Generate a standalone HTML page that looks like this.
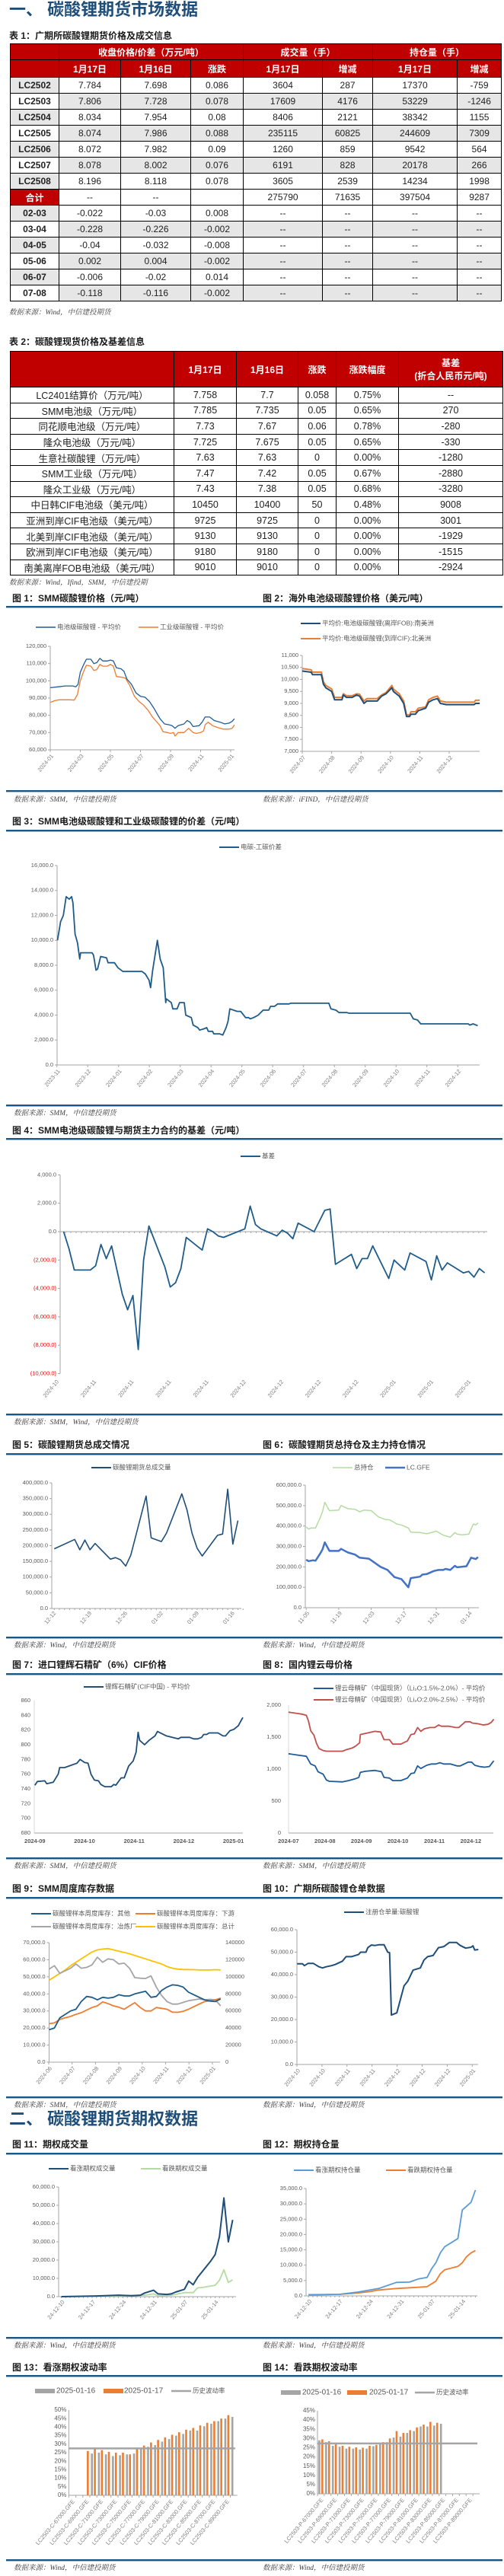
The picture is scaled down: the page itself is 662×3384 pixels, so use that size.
<!DOCTYPE html>
<html><head><meta charset="utf-8">
<style>
body{margin:0;background:#fff;}
#page{position:relative;width:662px;height:3384px;overflow:hidden;font-family:"Liberation Sans","Noto Sans CJK SC",sans-serif;}
table{position:absolute;border-collapse:collapse;font-family:"Liberation Sans Narrow","Liberation Sans","Noto Sans CJK SC",sans-serif;font-size:12px;color:#222;table-layout:fixed;}
td,th{border:1px solid #000;text-align:center;padding:0;white-space:nowrap;overflow:hidden;}
th{background:#c00000;color:#fff;font-weight:bold;font-family:"Liberation Sans","Noto Sans CJK SC",sans-serif;font-size:12px;}
.g{background:#e6e6e6;}
.b{font-weight:bold;}
#t1 td{height:20px;}
#t2 td{height:19.6px;font-size:12.5px;}
#charts{position:absolute;left:0;top:0;}
</style></head>
<body>
<div id="page">
<table id="t1" style="left:13px;top:57px;width:645px;">
<colgroup><col style="width:64px"><col style="width:81px"><col style="width:92px"><col style="width:69px"><col style="width:104px"><col style="width:66px"><col style="width:111px"><col style="width:58px"></colgroup>
<tr style="height:21px"><th></th><th colspan="3">收盘价格/价差（万元/吨）</th><th colspan="2">成交量（手）</th><th colspan="2">持仓量（手）</th></tr>
<tr style="height:23px"><th></th><th>1月17日</th><th>1月16日</th><th>涨跌</th><th>1月17日</th><th>增减</th><th>1月17日</th><th>增减</th></tr>
<tr><td class="g b">LC2502</td><td>7.784</td><td>7.698</td><td>0.086</td><td>3604</td><td>287</td><td>17370</td><td>-759</td></tr>
<tr class="g"><td class="b" style="background:#fff">LC2503</td><td>7.806</td><td>7.728</td><td>0.078</td><td>17609</td><td>4176</td><td>53229</td><td>-1246</td></tr>
<tr><td class="g b">LC2504</td><td>8.034</td><td>7.954</td><td>0.08</td><td>8406</td><td>2121</td><td>38342</td><td>1155</td></tr>
<tr class="g"><td class="b" style="background:#fff">LC2505</td><td>8.074</td><td>7.986</td><td>0.088</td><td>235115</td><td>60825</td><td>244609</td><td>7309</td></tr>
<tr><td class="g b">LC2506</td><td>8.072</td><td>7.982</td><td>0.09</td><td>1260</td><td>859</td><td>9542</td><td>564</td></tr>
<tr class="g"><td class="b" style="background:#fff">LC2507</td><td>8.078</td><td>8.002</td><td>0.076</td><td>6191</td><td>828</td><td>20178</td><td>266</td></tr>
<tr><td class="g b">LC2508</td><td>8.196</td><td>8.118</td><td>0.078</td><td>3605</td><td>2539</td><td>14234</td><td>1998</td></tr>
<tr><th>合计</th><td>--</td><td>--</td><td></td><td>275790</td><td>71635</td><td>397504</td><td>9287</td></tr>
<tr><td class="g b">02-03</td><td>-0.022</td><td>-0.03</td><td>0.008</td><td>--</td><td>--</td><td>--</td><td>--</td></tr>
<tr class="g"><td class="b" style="background:#fff">03-04</td><td>-0.228</td><td>-0.226</td><td>-0.002</td><td>--</td><td>--</td><td>--</td><td>--</td></tr>
<tr><td class="g b">04-05</td><td>-0.04</td><td>-0.032</td><td>-0.008</td><td>--</td><td>--</td><td>--</td><td>--</td></tr>
<tr class="g"><td class="b" style="background:#fff">05-06</td><td>0.002</td><td>0.004</td><td>-0.002</td><td>--</td><td>--</td><td>--</td><td>--</td></tr>
<tr><td class="g b">06-07</td><td>-0.006</td><td>-0.02</td><td>0.014</td><td>--</td><td>--</td><td>--</td><td>--</td></tr>
<tr class="g"><td class="b" style="background:#fff">07-08</td><td>-0.118</td><td>-0.116</td><td>-0.002</td><td>--</td><td>--</td><td>--</td><td>--</td></tr>
</table>
<table id="t2" style="left:13px;top:461px;width:647px;">
<colgroup><col style="width:215px"><col style="width:82px"><col style="width:81px"><col style="width:50px"><col style="width:82px"><col style="width:137px"></colgroup>
<tr style="height:47px"><th></th><th>1月17日</th><th>1月16日</th><th>涨跌</th><th>涨跌幅度</th><th>基差<br>(折合人民币元/吨)</th></tr>
<tr><td>LC2401结算价（万元/吨）</td><td>7.758</td><td>7.7</td><td>0.058</td><td>0.75%</td><td>--</td></tr>
<tr><td>SMM电池级（万元/吨）</td><td>7.785</td><td>7.735</td><td>0.05</td><td>0.65%</td><td>270</td></tr>
<tr><td>同花顺电池级（万元/吨）</td><td>7.73</td><td>7.67</td><td>0.06</td><td>0.78%</td><td>-280</td></tr>
<tr><td>隆众电池级（万元/吨）</td><td>7.725</td><td>7.675</td><td>0.05</td><td>0.65%</td><td>-330</td></tr>
<tr><td>生意社碳酸锂（万元/吨）</td><td>7.63</td><td>7.63</td><td>0</td><td>0.00%</td><td>-1280</td></tr>
<tr><td>SMM工业级（万元/吨）</td><td>7.47</td><td>7.42</td><td>0.05</td><td>0.67%</td><td>-2880</td></tr>
<tr><td>隆众工业级（万元/吨）</td><td>7.43</td><td>7.38</td><td>0.05</td><td>0.68%</td><td>-3280</td></tr>
<tr><td>中日韩CIF电池级（美元/吨）</td><td>10450</td><td>10400</td><td>50</td><td>0.48%</td><td>9008</td></tr>
<tr><td>亚洲到岸CIF电池级（美元/吨）</td><td>9725</td><td>9725</td><td>0</td><td>0.00%</td><td>3001</td></tr>
<tr><td>北美到岸CIF电池级（美元/吨）</td><td>9130</td><td>9130</td><td>0</td><td>0.00%</td><td>-1929</td></tr>
<tr><td>欧洲到岸CIF电池级（美元/吨）</td><td>9180</td><td>9180</td><td>0</td><td>0.00%</td><td>-1515</td></tr>
<tr><td>南美离岸FOB电池级（美元/吨）</td><td>9010</td><td>9010</td><td>0</td><td>0.00%</td><td>-2924</td></tr>
</table>
<svg id="charts" width="662" height="3384" xmlns="http://www.w3.org/2000/svg"></svg>
</div>
<script>
// ---------- data ----------
const f1Months=[0,0.5,1,1.5,1.7,1.85,2,2.2,2.4,2.7,2.9,3.1,3.3,3.5,3.8,4,4.2,4.4,4.7,4.9,5.1,5.4,5.7,6,6.3,6.6,6.9,7.1,7.3,7.6,7.9,8.1,8.3,8.5,8.9,9.1,9.3,9.5,9.9,10.1,10.3,10.6,10.9,11.3,11.6,11.9,12.1,12.25];
const f1Battery=[96000,96500,97000,97000,96500,98000,105000,109000,112500,112500,110000,110500,113000,111500,111500,112000,111500,107500,107000,105500,101000,98000,93000,91000,90500,88000,84000,81000,78000,75000,74500,74000,72500,74000,75000,77000,76000,73500,74000,76000,79000,79000,77000,76000,75000,75500,76500,78000];
const f1Months2=[0,0.3,0.6,1.3,1.6,1.8,2,2.2,2.4,2.7,2.9,3.1,3.3,3.5,3.8,4,4.2,4.4,4.8,5,5.3,5.6,5.9,6.2,6.5,6.8,7,7.3,7.5,7.8,8,8.2,8.3,8.5,8.9,9.2,9.5,9.7,10,10.2,10.3,10.5,10.8,11.1,11.5,11.9,12.1,12.25];
const f1Industrial=[87500,88500,89000,89000,88800,92000,100000,105000,109000,108500,106000,106500,109500,108500,108500,109500,108500,102500,102000,101500,97000,91000,88000,86000,83000,79000,77000,74000,70500,70000,69500,70000,68000,70000,70000,72500,70000,69500,70000,71000,74500,76000,74000,73000,72000,72000,72500,74500];
const f1Ticks=[60000,70000,80000,90000,100000,110000,120000];
const f1TickLabels=["60,000","70,000","80,000","90,000","100,000","110,000","120,000"];
const f1XLabels=["2024-01","2024-03","2024-05","2024-07","2024-09","2024-11","2025-01"];

const f2Months=[0,0.3,0.35,0.65,0.72,0.8,1,1.1,1.35,1.4,1.5,1.7,1.85,1.95,2.1,2.2,2.55,2.7,2.85,3.05,3.1,3.3,3.45,3.55,3.65,3.7,3.85,3.95,4.2,4.3,4.45,4.6,4.7,4.9,5.85,5.9,6.04];
const f2SouthAm=[10350,10300,10200,10200,9800,9650,9500,9150,9150,9350,9250,9250,9350,9300,9000,9100,9100,9300,9400,9650,9500,9300,9000,8450,8450,8550,8550,8700,8800,9050,9150,9200,9000,8950,8950,9000,9000];
const f2NorthAm=[10450,10400,10300,10300,9900,9750,9600,9250,9250,9400,9320,9320,9400,9380,9100,9200,9200,9350,9450,9750,9600,9400,9100,8520,8520,8650,8650,8800,8850,9150,9250,9300,9100,9050,9050,9130,9130];
const f2Ticks=[7000,7500,8000,8500,9000,9500,10000,10500,11000];
const f2TickLabels=["7,000","7,500","8,000","8,500","9,000","9,500","10,000","10,500","11,000"];
const f2XLabels=["2024-07","2024-08","2024-09","2024-10","2024-11","2024-12"];

const f3Months=[0.02,0.12,0.21,0.3,0.4,0.48,0.52,0.59,0.67,0.74,0.77,1.14,1.19,1.27,1.32,1.42,1.61,1.66,1.87,1.98,2.14,2.76,2.87,2.99,3.04,3.1,3.26,3.35,3.45,3.53,3.55,3.71,3.76,3.9,3.98,4.13,4.18,4.36,4.42,4.57,4.63,4.77,4.86,4.91,5.05,5.09,5.28,5.38,5.49,5.55,5.61,5.85,5.96,6.12,6.22,6.27,6.38,6.53,6.69,6.87,6.93,7.06,7.16,7.53,7.58,8.82,8.89,9.05,9.15,9.41,9.47,11.46,11.56,11.7,11.8,13.34,13.39,13.5,13.65];
const f3Spread=[10000,11500,12000,13500,13300,13500,13000,10500,9800,8500,9000,9000,8800,7600,7700,8700,8600,8200,8200,7800,7500,7500,7300,6800,6200,7500,10000,8500,7800,5000,5300,5000,4500,4500,5000,5000,4000,3800,3200,3000,2800,2900,3000,2700,2700,2500,2500,2400,3000,3500,4500,4300,4300,3800,3800,3700,3800,4000,4400,4400,4700,4700,4900,4900,4950,4950,4500,4400,4200,4200,4150,4150,3700,3600,3300,3300,3200,3300,3150];
const f3Ticks=[0,2000,4000,6000,8000,10000,12000,14000,16000];
const f3TickLabels=["0.0","2,000.0","4,000.0","6,000.0","8,000.0","10,000.0","12,000.0","14,000.0","16,000.0"];
const f3XLabels=["2023-11","2023-12","2024-01","2024-02","2024-03","2024-04","2024-05","2024-06","2024-07","2024-08","2024-09","2024-10","2024-11","2024-12"];

const f4Index=[0,1,2,5,6,7,8,9,11,12,13,14,15,16,19,20,21,22,23,26,27,28,29,30,34,35,36,37,40,41,42,43,44,47,49,50,51,54,55,56,57,58,61,62,64,65,68,69,70,71,72,75,76,77,78,79];
const f4Basis=[0,-1200,-2700,-2700,-2400,-900,-1900,-1000,-4400,-5500,-4500,-8300,-2000,400,-2500,-3900,-3600,-2600,-400,-1300,200,0,-300,-400,200,1800,500,200,-300,100,-100,-500,600,0,1500,1600,-2300,-1600,-2600,-1900,-1900,-1000,-3300,-2000,-2700,-1500,-2100,-3400,-1700,-2700,-2200,-2900,-2800,-3200,-2600,-2900];
const f4Ticks=[-10000,-8000,-6000,-4000,-2000,0,2000,4000];
const f4TickLabels=["(10,000.0)","(8,000.0)","(6,000.0)","(4,000.0)","(2,000.0)","0.0","2,000.0","4,000.0"];
const f4XLabels=["2024-10","2024-11","2024-11","2024-11","2024-11","2024-12","2024-12","2024-12","2024-12","2025-01","2025-01","2025-01"];

const f5Days=[0,4,5,6,7,8,11,12,13,14,15,18,19,21,22,25,26,27,28,29,32,33,34,35,36];
const f5Volume=[190000,220000,187000,218000,187000,207000,157000,162000,155000,135000,170000,358000,225000,213000,240000,365000,315000,240000,192000,167000,233000,237000,380000,205000,280000];
const f5Ticks=[0,50000,100000,150000,200000,250000,300000,350000,400000];
const f5TickLabels=["0.0","50,000.0","100,000.0","150,000.0","200,000.0","250,000.0","300,000.0","350,000.0","400,000.0"];
const f5XLabels=["12-12","12-19","12-26","01-02","01-09","01-16"];

const f6DaysTotal=[0,1,2,4,6,7,8,10,14,15,16,18,21,23,25,28,31,34,36,39,41,44,45,49,52,56,59,62,64,65,67,70,72,73,74];
const f6Total=[395000,385000,390000,390000,440000,470000,516000,475000,478000,500000,495000,485000,482000,470000,478000,475000,445000,432000,430000,410000,405000,390000,370000,368000,362000,375000,355000,345000,368000,360000,357000,360000,410000,405000,415000];
const f6DaysMain=[0,1,3,4,6,7,8,10,14,15,16,18,21,23,27,32,35,38,41,44,45,49,50,52,55,57,59,60,62,64,65,69,71,73,74];
const f6Main=[235000,228000,232000,230000,265000,285000,320000,278000,278000,288000,282000,270000,260000,245000,240000,200000,185000,150000,140000,100000,145000,152000,162000,165000,180000,185000,185000,190000,185000,205000,198000,203000,245000,238000,248000];
const f6Ticks=[0,100000,200000,300000,400000,500000,600000];
const f6TickLabels=["0.0","100,000.0","200,000.0","300,000.0","400,000.0","500,000.0","600,000.0"];
const f6XLabels=["11-05","11-19","12-03","12-17","12-31","01-14"];

const f7Months=[0,0.05,0.2,0.24,0.37,0.47,0.5,0.6,0.85,0.91,1,1.07,1.13,1.2,1.28,1.33,1.41,1.54,1.59,1.63,1.74,1.8,1.89,1.98,2.04,2.08,2.11,2.21,2.3,2.42,2.47,2.65,2.89,2.94,3.12,3.2,3.28,3.36,3.4,3.46,3.51,3.69,3.79,3.84,3.93,4.01,4.1,4.14,4.19];
const f7Price=[745,750,751,747,749,760,769,769,775,780,776,775,760,752,751,746,743,743,746,745,755,755,771,778,790,817,806,800,806,812,818,812,808,810,810,808,808,810,814,814,816,816,812,812,819,821,826,831,837];
const f7Ticks=[680,700,720,740,760,780,800,820,840,860];
const f7XLabels=["2024-09","2024-10","2024-11","2024-12","2025-01"];

const f8MonthsHigh=[0,0.24,0.37,0.49,0.55,0.61,0.7,0.77,0.84,0.95,1.04,1.48,1.57,1.75,1.84,1.95,1.97,2.37,2.53,2.62,2.77,2.86,3.08,3.26,3.36,3.45,3.54,3.63,3.72,3.88,4.01,4.12,4.19,4.41,4.58,4.67,4.85,4.98,5.04,5.19,5.34,5.47,5.56,5.63];
const f8High=[1890,1870,1860,1840,1750,1600,1530,1400,1320,1290,1280,1280,1300,1330,1360,1410,1540,1590,1580,1460,1460,1390,1390,1440,1540,1550,1650,1590,1630,1650,1650,1690,1670,1670,1650,1650,1740,1740,1720,1710,1690,1700,1730,1780];
const f8MonthsLow=[0,0.24,0.49,0.61,0.73,0.81,0.95,1.04,1.12,1.48,1.65,1.84,1.93,1.97,2.11,2.37,2.55,2.62,2.77,2.86,3.08,3.26,3.36,3.45,3.54,3.63,3.79,3.92,4.04,4.15,4.26,4.44,4.62,4.71,4.93,5.02,5.11,5.24,5.38,5.51,5.63];
const f8Low=[1240,1220,1200,1080,1050,960,920,830,810,800,820,850,870,950,965,980,960,870,860,820,820,860,930,940,1050,1010,1060,1080,1080,1100,1080,1080,1050,1050,1110,1110,1060,1040,1030,1040,1130];
const f8Ticks=[0,500,1000,1500,2000];
const f8TickLabels=["0","500","1,000","1,500","2,000"];
const f8XLabels=["2024-07","2024-08","2024-09","2024-10","2024-11","2024-12"];

const f9Other=[19000,20000,26000,28000,30000,31000,35500,38500,38000,36500,38000,37500,38000,39500,38800,38800,40000,40800,41500,38000,38500,42000,44000,45300,45000,44000,41000,39500,38000,36500,35800,35500,37000];
const f9Down=[22500,23000,25000,26000,26800,28000,29000,30500,32000,33000,35300,34300,33000,32200,31000,33000,34800,32000,30000,30000,32000,31500,31000,29300,29200,29800,31000,32500,34000,35500,36000,36500,37500];
const f9Smelter=[54500,56500,52000,53500,55000,57500,55000,55500,57000,61500,58500,60500,60000,57500,58000,55000,49500,49200,49000,50500,44000,39000,35500,34000,34000,35000,36000,36500,37000,36500,36800,36500,33000];
const f9Total=[96000,100000,104000,108000,113000,117000,121000,125000,129000,131500,132500,133000,131500,130000,128500,127000,125000,123000,121000,119000,117000,115000,112000,110000,109000,108500,108500,108300,108000,108000,108000,108300,108000];
const f9Ticks=[0,10000,20000,30000,40000,50000,60000,70000];
const f9TickLabels=["0.0","10,000.0","20,000.0","30,000.0","40,000.0","50,000.0","60,000.0","70,000.0"];
const f9RightLabels=["0","20000","40000","60000","80000","100000","120000","140000"];
const f9XLabels=["2024-06","2024-07","2024-08","2024-09","2024-10","2024-11","2024-12","2025-01"];

const f10Days=[0,3,4,6,9,12,14,16,19,21,25,27,30,34,35,38,39,41,43,45,48,50,51,52,55,57,59,61,64,68,70,72,75,78,81,84,88,90,93,96,97,98,100];
const f10Receipts=[44800,44800,44000,45000,45000,43500,43000,43500,44000,44500,46000,48000,48000,49000,50000,50000,52000,53200,53000,53300,53300,50000,49800,22000,23000,29000,35000,37000,42000,43000,46500,48000,48500,52000,52500,54300,54300,53000,51800,52200,52800,51000,51200];
const f10Ticks=[0,10000,20000,30000,40000,50000,60000];
const f10TickLabels=["0.0","10,000.0","20,000.0","30,000.0","40,000.0","50,000.0","60,000.0"];
const f10XLabels=["2024-10","2024-10","2024-11","2024-11","2024-12","2024-12","2024-12","2025-01"];

const f11DaysCall=[0,7,10,13,16,18,19,21,22,24,25,26,28,29,30,31,34,35,36,37,38,39];
const f11Call=[0,300,500,800,500,800,2000,3500,1500,1200,1500,2500,4000,8500,6500,10500,19500,23000,33000,54000,30000,42000];
const f11DaysPut=[0,10,19,21,22,25,28,30,31,32,35,36,37,38,39];
const f11Put=[0,200,800,1500,500,800,2200,2200,4800,5000,6200,9000,14700,7800,9200];
const f11Ticks=[0,10000,20000,30000,40000,50000,60000];
const f11TickLabels=["0.0","10,000.0","20,000.0","30,000.0","40,000.0","50,000.0","60,000.0"];
const f11XLabels=["24-12-10","24-12-17","24-12-24","24-12-31","25-01-07","25-01-14"];

const f12DaysCall=[0,7,11,16,20,23,25,27,28,29,30,31,34,35,37,38];
const f12Call=[300,500,1200,2400,4400,4500,5500,6000,8800,10800,14000,16000,18700,28000,30500,34500];
const f12DaysPut=[0,7,11,14,16,20,25,27,29,30,31,34,35,36,37,38];
const f12Put=[400,500,900,1400,1900,2400,2800,3000,4800,7200,8500,9600,10800,12800,14000,14800];
const f12Ticks=[0,5000,10000,15000,20000,25000,30000,35000];
const f12TickLabels=["0.0","5,000.0","10,000.0","15,000.0","20,000.0","25,000.0","30,000.0","35,000.0"];

const f13Strikes=["67000","68000","69000","70000","71000","72000","73000","74000","75000","76000","77000","78000","79000","80000","81000","82000","83000","84000","85000","86000","87000","88000","89000","90000"];
const f13Prev=[null,null,null,24.5,25,24,23,23.5,24,24.5,27.5,28.5,29.5,31.5,33,35,36,38,38,40.5,42,43.5,45,46];
const f13Curr=[null,null,26,28,26.5,25.5,25,25,24,27,29.2,31,32.5,34,35.5,37,38.5,39.5,41,42.5,43.5,45,47,null];
const f13Hist=27.5;
const f13Ticks=[0,5,10,15,20,25,30,35,40,45,50];
const f14Prev=[29,28,26,25.5,24.5,24.5,24,24.5,25.8,27,28,30.5,31,33,34,36.5,36.5,37,38,null,null,null,null,null];
const f14Curr=[29.5,28.5,27,26,25.5,25.2,25,26,26.5,28,30,34,33,34.5,36,37.5,39,38.5,null,null,null,null,null,null];
const f14Hist=27.3;
const f14Ticks=[0,5,10,15,20,25,30,35,40,45];

// ---------- helpers ----------
const NS="http://www.w3.org/2000/svg";
const svg=document.getElementById('charts');
const CJK='"Liberation Sans","Noto Sans CJK SC",sans-serif';
function mk(tag,attrs,name){
  const e=document.createElementNS(NS,tag);
  for(const k in attrs) e.setAttribute(k,attrs[k]);
  
  
  svg.appendChild(e);return e;
}
function txt(x,y,s,size,color,name,anchor,extra){
  const a={x:x,y:y,'font-size':size,fill:color,'font-family':CJK,'text-anchor':anchor||'start','dominant-baseline':'middle'};
  if(extra) for(const k in extra) a[k]=extra[k];
  const t=mk('text',a,name);t.textContent=s;return t;
}
function lin(d0,d1,r0,r1){return v=>r0+(v-d0)*(r1-r0)/(d1-d0);}
function poly(xs,ys,sx,sy,color,w,name){
  let d='';for(let i=0;i<xs.length;i++){d+=(i?'L':'M')+sx(xs[i]).toFixed(1)+' '+sy(ys[i]).toFixed(1);}
  return mk('path',{d:d,fill:'none',stroke:color,'stroke-width':w,'stroke-linejoin':'round'},name);
}
function yAxis(x,sy,ticks,labels,name,color){
  mk('line',{x1:x,x2:x,y1:sy(ticks[0]),y2:sy(ticks[ticks.length-1]),stroke:'#a6a6a6','stroke-width':1},name+'-line');
  ticks.forEach((t,i)=>{
    mk('line',{x1:x-3,x2:x,y1:sy(t),y2:sy(t),stroke:'#a6a6a6','stroke-width':1},name+'-tick');
    txt(x-5,sy(t),labels[i],7.5,(color&&t<0)?'#ff0000':'#595959',name+'-label','end');
  });
}
function xAxisLine(x1,x2,y,name){mk('line',{x1:x1,x2:x2,y1:y,y2:y,stroke:'#a6a6a6','stroke-width':1},name);}
function rotLabel(x,y,s,name){txt(x,y,s,7.5,'#7f7f7f',name,'end',{transform:'rotate(-50 '+x+' '+y+')'});}
function legLine(x,y,color,w,label,name){
  mk('line',{x1:x,x2:x+26,y1:y,y2:y,stroke:color,'stroke-width':w},name+'-swatch');
  txt(x+28,y,label,8.5,'#595959',name);
}
function rule(y){mk('rect',{x:8,y:y-1,width:652,height:2.4,fill:'#1a5785'},'blue-rule');}
function cap(x,y,s,name){txt(x,y,s,12,'#1a1a1a',name,'start',{'font-weight':'bold'});}
function src(x,y,s,name){txt(x,y,s,9.5,'#404040',name,'start',{'font-style':'italic','font-family':'"Liberation Serif","Noto Serif CJK SC",serif'});}

// ---------- headings ----------
txt(12,14,'一、 碳酸锂期货市场数据',22,'#1f4e79','section-1-title','start',{'font-weight':'bold'});
cap(12,48,'表 1：广期所碳酸锂期货价格及成交信息','table-1-caption');
src(12,411,'数据来源：Wind，中信建投期货','table-1-source');
cap(12,450,'表 2：碳酸锂现货价格及基差信息','table-2-caption');
src(12,766,'数据来源：Wind，Ifind，SMM，中信建投期','table-2-source');

// ---------- fig1 ----------
cap(16,787,'图 1：SMM碳酸锂价格（元/吨）','fig1-caption');
cap(345,787,'图 2：海外电池级碳酸锂价格（美元/吨）','fig2-caption');
rule(797);
legLine(47,824,'#1f5c99',1.5,'电池级碳酸锂 - 平均价','fig1-legend-battery');
legLine(182,824,'#ed7d31',1.5,'工业级碳酸锂 - 平均价','fig1-legend-industrial');
{const sx=lin(0,12,66,303),sy=lin(60000,120000,985,849);
 yAxis(66,sy,f1Ticks,f1TickLabels,'fig1-y-axis');xAxisLine(66,308,985,'fig1-x-axis');
 f1XLabels.forEach((l,i)=>{mk('line',{x1:sx(i*2),x2:sx(i*2),y1:985,y2:988,stroke:'#a6a6a6'},'fig1-x-tick');rotLabel(sx(i*2)+3,992,l,'fig1-x-label');});
 poly(f1Months,f1Battery,sx,sy,'#1f5c99',1.3,'fig1-battery-line');
 poly(f1Months2,f1Industrial,sx,sy,'#ed7d31',1.3,'fig1-industrial-line');}
legLine(395,819,'#1f4e79',2,'平均价:电池级碳酸锂(离岸FOB):南美洲','fig2-legend-south-america');
legLine(395,839,'#ed7d31',2,'平均价:电池级碳酸锂(到岸CIF):北美洲','fig2-legend-north-america');
{const sx=lin(0,5,397,590),sy=lin(7000,11000,987,861);
 yAxis(397,sy,f2Ticks,f2TickLabels,'fig2-y-axis');xAxisLine(397,630,987,'fig2-x-axis');
 f2XLabels.forEach((l,i)=>{mk('line',{x1:sx(i),x2:sx(i),y1:987,y2:990,stroke:'#a6a6a6'},'fig2-x-tick');rotLabel(sx(i)+3,994,l,'fig2-x-label');});
 poly(f2Months,f2NorthAm,sx,sy,'#ed7d31',2,'fig2-north-america-line');
 poly(f2Months,f2SouthAm,sx,sy,'#1f4e79',2,'fig2-south-america-line');}
rule(1039);
src(18,1051,'数据来源：SMM，中信建投期货','fig1-source');
src(345,1051,'数据来源：iFIND，中信建投期货','fig2-source');

// ---------- fig3 ----------
cap(16,1080,'图 3：SMM电池级碳酸锂和工业级碳酸锂的价差（元/吨）','fig3-caption');
rule(1091);
legLine(288,1113,'#1f5c8a',2,'电碳-工碳价差','fig3-legend');
{const sx=lin(0,1,74.7,115.2),sy=lin(0,16000,1399,1137);
 yAxis(75,sy,f3Ticks,f3TickLabels,'fig3-y-axis');xAxisLine(75,630,1399,'fig3-x-axis');
 f3XLabels.forEach((l,i)=>{mk('line',{x1:sx(i),x2:sx(i),y1:1399,y2:1402,stroke:'#a6a6a6'},'fig3-x-tick');rotLabel(sx(i)+3,1406,l,'fig3-x-label');});
 poly(f3Months,f3Spread,sx,sy,'#1f5c8a',1.8,'fig3-spread-line');}
rule(1452);
src(18,1463,'数据来源：SMM，中信建投期货','fig3-source');

// ---------- fig4 ----------
cap(16,1486,'图 4：SMM电池级碳酸锂与期货主力合约的基差（元/吨）','fig4-caption');
rule(1496);
legLine(316,1519,'#1f5c8a',2,'基差','fig4-legend');
{const sx=lin(0,1,83.6,90.6),sy=lin(0,2000,1618,1580.7);
 yAxis(79,sy,f4Ticks,f4TickLabels,'fig4-y-axis',true);xAxisLine(79,640,1618,'fig4-x-axis');
 for(let i=0;i<81;i++){mk('line',{x1:79+i*6.96,x2:79+i*6.96,y1:1618,y2:1620,stroke:'#a6a6a6'},'fig4-x-tick');}
 f4XLabels.forEach((l,i)=>{rotLabel(76+i*49.2,1814,l,'fig4-x-label');});
 poly(f4Index,f4Basis,sx,sy,'#1f5c8a',1.8,'fig4-basis-line');}
rule(1858);
src(18,1869,'数据来源：SMM，Wind，中信建投期货','fig4-source');

// ---------- fig5/6 ----------
cap(16,1899,'图 5：碳酸锂期货总成交情况','fig5-caption');
cap(345,1899,'图 6：碳酸锂期货总持仓及主力持仓情况','fig6-caption');
rule(1910);
legLine(120,1928,'#1f4e79',2,'碳酸锂期货总成交量','fig5-legend');
{const sx=lin(0,1,71.3,78),sy=lin(0,400000,2113,1948);
 yAxis(68,sy,f5Ticks,f5TickLabels,'fig5-y-axis');xAxisLine(68,317,2113,'fig5-x-axis');
 for(let d=0;d<38;d++){mk('line',{x1:sx(d),x2:sx(d),y1:2113,y2:2115,stroke:'#a6a6a6'},'fig5-x-tick');}
 f5XLabels.forEach((l,i)=>{rotLabel(sx(i*7)+1,2118,l,'fig5-x-label');});
 poly(f5Days,f5Volume,sx,sy,'#1f4e79',1.6,'fig5-volume-line');}
legLine(437,1928,'#b4dca0',1.5,'总持仓','fig6-legend-total');
legLine(506,1928,'#4472c4',2.5,'LC.GFE','fig6-legend-main');
{const sx=lin(0,1,402.2,405.25),sy=lin(0,600000,2112,1951);
 yAxis(401,sy,f6Ticks,f6TickLabels,'fig6-y-axis');xAxisLine(401,629,2112,'fig6-x-axis');
 f6XLabels.forEach((l,i)=>{mk('line',{x1:sx(i*14),x2:sx(i*14),y1:2112,y2:2115,stroke:'#a6a6a6'},'fig6-x-tick');rotLabel(sx(i*14)+3,2118,l,'fig6-x-label');});
 poly(f6DaysTotal,f6Total,sx,sy,'#b4dca0',1.5,'fig6-total-line');
 poly(f6DaysMain,f6Main,sx,sy,'#4472c4',2.5,'fig6-main-line');}
rule(2151);
src(18,2162,'数据来源：Wind，中信建投期货','fig5-source');
src(345,2162,'数据来源：Wind，中信建投期货','fig6-source');

// ---------- fig7/8 ----------
cap(16,2188,'图 7：进口锂辉石精矿（6%）CIF价格','fig7-caption');
cap(345,2188,'图 8：国内锂云母价格','fig8-caption');
rule(2199);
legLine(110,2216,'#1f4e79',2,'锂辉石精矿(CIF中国) - 平均价','fig7-legend');
{const sx=lin(0,1,45.8,111),sy=lin(680,860,2408,2234);
 f7Ticks.forEach(t=>txt(40,sy(t),String(t),7.5,'#595959','fig7-y-label','end'));
 mk('line',{x1:45,x2:45,y1:2234,y2:2408,stroke:'#d9d9d9'},'fig7-y-axis');xAxisLine(45,319,2408,'fig7-x-axis');
 f7XLabels.forEach((l,i)=>{txt(sx(i),2419,l,7.5,'#595959','fig7-x-label','middle',{'font-weight':'bold'});});
 poly(f7Months,f7Price,sx,sy,'#1f4e79',1.8,'fig7-price-line');}
legLine(412,2218,'#1f5c99',2,'锂云母精矿（中国现货）（Li₂O:1.5%-2.0%）- 平均价','fig8-legend-low');
legLine(412,2233,'#c0504d',2,'锂云母精矿（中国现货）（Li₂O:2.0%-2.5%）- 平均价','fig8-legend-high');
{const sx=lin(0,1,378.9,426.8),sy=lin(0,2000,2408,2240);
 f8Ticks.forEach((t,i)=>txt(369,sy(t),f8TickLabels[i],7.5,'#595959','fig8-y-label','end'));
 mk('line',{x1:379,x2:379,y1:2240,y2:2408,stroke:'#d9d9d9'},'fig8-y-axis');xAxisLine(379,648,2408,'fig8-x-axis');
 f8XLabels.forEach((l,i)=>{txt(sx(i),2419,l,7.5,'#595959','fig8-x-label','middle',{'font-weight':'bold'});});
 poly(f8MonthsHigh,f8High,sx,sy,'#c0504d',1.8,'fig8-high-grade-line');
 poly(f8MonthsLow,f8Low,sx,sy,'#1f5c99',1.8,'fig8-low-grade-line');}
rule(2441);
src(18,2452,'数据来源：SMM，中信建投期货','fig7-source');
src(345,2452,'数据来源：SMM，中信建投期货','fig8-source');

// ---------- fig9/10 ----------
cap(16,2482,'图 9：SMM周度库存数据','fig9-caption');
cap(345,2482,'图 10：广期所碳酸锂仓单数据','fig10-caption');
rule(2493);
legLine(41,2514,'#1f5c8a',2,'碳酸锂样本周度库存：其他','fig9-legend-other');
legLine(178,2514,'#ed7d31',2,'碳酸锂样本周度库存：下游','fig9-legend-downstream');
legLine(41,2531,'#a5a5a5',2,'碳酸锂样本周度库存：冶炼厂','fig9-legend-smelter');
legLine(178,2531,'#ffc000',2,'碳酸锂样本周度库存：总计','fig9-legend-total');
{const sx=lin(0,1,64.5,71.54),sy=lin(0,70000,2709,2552),sy2=lin(0,140000,2709,2552);
 yAxis(64.5,sy,f9Ticks,f9TickLabels,'fig9-y-axis');xAxisLine(64.5,289,2709,'fig9-x-axis');
 f9Ticks.forEach((t,i)=>txt(296,sy(t),f9RightLabels[i],7.5,'#595959','fig9-right-label','start'));
 f9XLabels.forEach((l,i)=>{const x=64+i*30.7;mk('line',{x1:x,x2:x,y1:2709,y2:2712,stroke:'#a6a6a6'},'fig9-x-tick');rotLabel(x+3,2716,l,'fig9-x-label');});
 const w=f9Other.map((v,i)=>i);
 poly(w,f9Total,sx,sy2,'#ffc000',1.8,'fig9-total-line');
 poly(w,f9Smelter,sx,sy,'#a5a5a5',1.8,'fig9-smelter-line');
 poly(w,f9Down,sx,sy,'#ed7d31',1.8,'fig9-downstream-line');
 poly(w,f9Other,sx,sy,'#1f5c8a',1.8,'fig9-other-line');}
legLine(452,2512,'#1f4e79',2,'注册仓单量:碳酸锂','fig10-legend');
{const sx=lin(0,1,390.3,392.68),sy=lin(0,60000,2712,2535);
 yAxis(390,sy,f10Ticks,f10TickLabels,'fig10-y-axis');xAxisLine(390,628,2712,'fig10-x-axis');
 f10XLabels.forEach((l,i)=>{const x=390+i*32.9;mk('line',{x1:x,x2:x,y1:2712,y2:2715,stroke:'#a6a6a6'},'fig10-x-tick');rotLabel(x+3,2719,l,'fig10-x-label');});
 poly(f10Days,f10Receipts,sx,sy,'#1f4e79',2,'fig10-receipts-line');}
rule(2755);
src(18,2766,'数据来源：SMM，中信建投期货','fig9-source');
src(345,2766,'数据来源：Wind，中信建投期货','fig10-source');

// ---------- section 2 ----------
txt(12,2785,'二、 碳酸锂期货期权数据',22,'#1f4e79','section-2-title','start',{'font-weight':'bold'});
cap(16,2818,'图 11：期权成交量','fig11-caption');
cap(345,2818,'图 12：期权持仓量','fig12-caption');
rule(2829);
legLine(64,2849,'#1f4e79',2,'看涨期权成交量','fig11-legend-call');
legLine(185,2849,'#b4dca0',2,'看跌期权成交量','fig11-legend-put');
{const sx=lin(0,1,80.6,86.37),sy=lin(0,60000,3017,2873);
 yAxis(77,sy,f11Ticks,f11TickLabels,'fig11-y-axis');xAxisLine(77,310,3017,'fig11-x-axis');
 for(let d=0;d<40;d++){mk('line',{x1:sx(d),x2:sx(d),y1:3017,y2:3019,stroke:'#a6a6a6'},'fig11-x-tick');}
 f11XLabels.forEach((l,i)=>{rotLabel(sx(i*7)+3,3023,l,'fig11-x-label');});
 poly(f11DaysPut,f11Put,sx,sy,'#b4dca0',1.8,'fig11-put-line');
 poly(f11DaysCall,f11Call,sx,sy,'#1f4e79',2,'fig11-call-line');}
legLine(386,2851,'#5b9bd5',2,'看涨期权持仓量','fig12-legend-call');
legLine(507,2851,'#ed7d31',2,'看跌期权持仓量','fig12-legend-put');
{const sx=lin(0,1,405.2,410.97),sy=lin(0,35000,3016,2875);
 yAxis(402,sy,f12Ticks,f12TickLabels,'fig12-y-axis');xAxisLine(402,627,3016,'fig12-x-axis');
 for(let d=0;d<39;d++){mk('line',{x1:sx(d),x2:sx(d),y1:3016,y2:3018,stroke:'#a6a6a6'},'fig12-x-tick');}
 f11XLabels.forEach((l,i)=>{rotLabel(sx(i*7)+3,3022,l,'fig12-x-label');});
 poly(f12DaysPut,f12Put,sx,sy,'#ed7d31',1.8,'fig12-put-line');
 poly(f12DaysCall,f12Call,sx,sy,'#5b9bd5',1.8,'fig12-call-line');}
rule(3071);
src(18,3082,'数据来源：Wind，中信建投期货','fig11-source');
src(345,3082,'数据来源：Wind，中信建投期货','fig12-source');

// ---------- fig13/14 ----------
cap(16,3111,'图 13：看涨期权波动率','fig13-caption');
cap(345,3111,'图 14：看跌期权波动率','fig14-caption');
rule(3121);
function barChart(pfx,x0,x1,y0,yTop,maxV,ticks,prev,curr,hist,kind){
  const n=f13Strikes.length,w=(x1-x0)/n,sy=lin(0,maxV,y0,yTop);
  mk('line',{x1:x0,x2:x0,y1:y0,y2:yTop,stroke:'#a6a6a6'},pfx+'-y-axis');
  ticks.forEach(t=>txt(x0-3,sy(t),t+'%',8,'#595959',pfx+'-y-label','end'));
  xAxisLine(x0,x1,y0,pfx+'-x-axis');
  for(let i=0;i<n;i++){
    const cx=x0+(i+0.5)*w;
    mk('line',{x1:x0+i*w,x2:x0+i*w,y1:y0,y2:y0+3,stroke:'#a6a6a6'},pfx+'-x-tick');
    if(prev[i]!=null){mk('rect',{x:cx-3.3,y:sy(prev[i]),width:2.6,height:y0-sy(prev[i]),fill:'#a5a5a5'},pfx+'-bar-prev');}
    if(curr[i]!=null){mk('rect',{x:cx+0.6,y:sy(curr[i]),width:2.6,height:y0-sy(curr[i]),fill:'#ed7d31'},pfx+'-bar-curr');}
    if(i%2===0){rotLabel(cx+2,y0+7,'LC2503-'+kind+'-'+f13Strikes[i]+'.GFE',pfx+'-x-label');}
  }
  mk('line',{x1:x0,x2:x1-3,y1:sy(hist),y2:sy(hist),stroke:'#a5a5a5','stroke-width':2.5},pfx+'-hist-vol-line');
}
mk('rect',{x:46,y:3138,width:26,height:6,fill:'#a5a5a5'},'fig13-legend-prev-swatch');
txt(74,3141,'2025-01-16',10,'#595959','fig13-legend-prev');
mk('rect',{x:136,y:3138,width:26,height:6,fill:'#ed7d31'},'fig13-legend-curr-swatch');
txt(163,3141,'2025-01-17',10,'#595959','fig13-legend-curr');
legLine(225,3141,'#a5a5a5',2.5,'历史波动率','fig13-legend-hist');
barChart('fig13',90.4,311.8,3278,3166,50,f13Ticks,f13Prev,f13Curr,f13Hist,'C');
mk('rect',{x:369,y:3140,width:26,height:6,fill:'#a5a5a5'},'fig14-legend-prev-swatch');
txt(397,3143,'2025-01-16',10,'#595959','fig14-legend-prev');
mk('rect',{x:456,y:3140,width:26,height:6,fill:'#ed7d31'},'fig14-legend-curr-swatch');
txt(485,3143,'2025-01-17',10,'#595959','fig14-legend-curr');
legLine(545,3143,'#a5a5a5',2.5,'历史波动率','fig14-legend-hist');
barChart('fig14',417,630,3276,3167,45,f14Ticks,f14Prev,f14Curr,f14Hist,'P');
rule(3363);
src(18,3374,'数据来源：Wind，中信建投期货','fig13-source');
src(345,3374,'数据来源：Wind，中信建投期货','fig14-source');
</script>
</body></html>
